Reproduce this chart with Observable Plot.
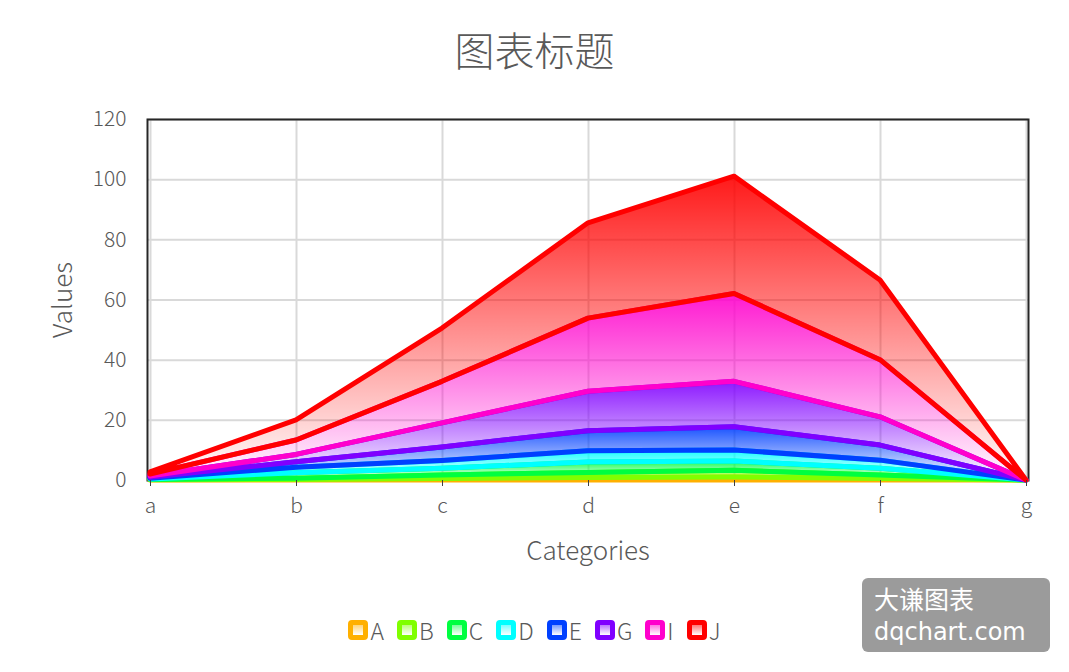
<!DOCTYPE html>
<html><head><meta charset="utf-8">
<script src="https://cdn.jsdelivr.net/npm/d3@7"></script>
<script src="https://cdn.jsdelivr.net/npm/@observablehq/plot@0.6"></script>
<style>
body{margin:0;background:#fff;font-family:"Noto Sans CJK SC","Noto Sans",sans-serif;font-weight:300;width:1069px;height:672px;overflow:hidden;position:relative}
#title{height:98px;line-height:98px;text-align:center;font-size:40px;color:#595959}
#chart{position:absolute;left:0;top:100px}
#ytitle{position:absolute;left:60px;top:300px;transform:translate(-50%,-50%) rotate(-90deg);font-size:26px;color:#595959;white-space:nowrap}
#xtitle{position:absolute;left:588px;top:548px;transform:translate(-50%,-50%);font-size:26px;color:#595959;white-space:nowrap}
#legend{position:absolute;left:0;width:1069px;top:614px;height:32px;display:flex;justify-content:center;align-items:center;gap:13px;font-size:23px;color:#595959}
.item{display:flex;align-items:center;gap:2px}
.sw{width:10px;height:10px;border-radius:4px;border:5px solid}
#wmbox{position:absolute;left:862px;top:578px;width:188px;height:74px;background:#9b9b9b;border-radius:6px}
.wm{position:absolute;left:874px;color:#fff;white-space:nowrap}
#wm1{top:580px;height:36px;line-height:36px;font-size:25px;font-weight:400}
#wm2{top:617px;height:30px;line-height:30px;font-size:24px;font-family:"DejaVu Sans",sans-serif;font-weight:400}
</style></head><body>
<div id="title">图表标题</div>
<div id="chart"></div>
<div id="ytitle">Values</div>
<div id="xtitle">Categories</div>
<div id="legend"></div>
<div id="wmbox"></div>
<div class="wm" id="wm1">大谦图表</div>
<div class="wm" id="wm2">dqchart.com</div>
<script>
const categories = ["a","b","c","d","e","f","g"];
const seriesNames = ["A","B","C","D","E","G","I","J"];
const seriesColors = ["#ffb000","#80ff00","#00ff40","#00ffff","#0040ff","#8000ff","#ff00cc","#ff0000"];
const valuesA = [0.05, 0.2, 0.5, 0.8, 1.0, 0.5, 0];
const valuesB = [0.1, 0.4, 1.2, 1.7, 2.2, 1.2, 0];
const valuesC = [0.2, 1.8, 2.2, 3.5, 3.1, 2.2, 0];
const valuesD = [0.25, 1.8, 2.6, 3.7, 3.7, 2.7, 0];
const valuesE = [0.3, 1.9, 4.5, 6.7, 7.7, 5.0, 0];
const valuesG = [0.4, 2.4, 8.0, 13.1, 15.1, 9.4, 0];
const valuesI = [0.7, 4.8, 13.8, 24.3, 29.2, 19.0, 0];
const valuesJ = [0.7, 6.7, 17.7, 31.7, 39.0, 26.5, 0];
const yTicks = [0, 20, 40, 60, 80, 100, 120];

const allValues = [valuesA, valuesB, valuesC, valuesD, valuesE, valuesG, valuesI, valuesJ];

// stack the series
const cum = categories.map(() => 0);
const stacked = allValues.map((vals, s) => categories.map((c, i) => {
  const y1 = cum[i];
  cum[i] += vals[i];
  return {cat: c, y1, y2: cum[i]};
}));

const areaMarks = stacked.map((rows, s) => Plot.areaY(rows, {
  x: "cat", y1: "y1", y2: "y2",
  fill: `url(#grad${seriesNames[s]})`,
  stroke: seriesColors[s], strokeWidth: 5, strokeLinejoin: "round"
}));

const svg = Plot.plot({
  width: 1069, height: 470,
  marginTop: 19, marginBottom: 90, marginLeft: 147, marginRight: 41,
  style: {fontFamily: '"Noto Sans CJK SC","Noto Sans",sans-serif', fontWeight: 300, background: "transparent"},
  x: {type: "point", domain: categories, padding: 0},
  y: {domain: [0, 120]},
  marks: [
    Plot.gridY(yTicks, {stroke: "#d9d9d9", strokeOpacity: 1, strokeWidth: 2}),
    Plot.gridX(categories, {stroke: "#d9d9d9", strokeOpacity: 1, strokeWidth: 2}),
    Plot.frame({stroke: "#262626", strokeWidth: 2}),
    ...areaMarks,
    Plot.axisY(yTicks, {tickSize: 0, tickPadding: 21, fontSize: 21, fill: "#595959", label: null}),
    Plot.axisX(categories, {tickSize: 6, tickPadding: 12, fontSize: 21, fill: "#595959", stroke: "#404040", label: null})
  ]
});

const defs = d3.select(svg).insert("defs", ":first-child");
seriesNames.forEach((n, s) => {
  const g = defs.append("linearGradient").attr("id", "grad" + n)
    .attr("x1", 0).attr("y1", 0).attr("x2", 0).attr("y2", 1);
  g.append("stop").attr("offset", 0).attr("stop-color", seriesColors[s]).attr("stop-opacity", 0.9);
  g.append("stop").attr("offset", 1).attr("stop-color", seriesColors[s]).attr("stop-opacity", 0);
});
document.getElementById("chart").appendChild(svg);

const legend = d3.select("#legend");
seriesNames.forEach((n, s) => {
  const it = legend.append("div").attr("class", "item");
  it.append("div").attr("class", "sw")
    .style("border-color", seriesColors[s])
    .style("background", `linear-gradient(${seriesColors[s]}88, #ffffff)`);
  it.append("span").text(n);
});
</script>
</body></html>
